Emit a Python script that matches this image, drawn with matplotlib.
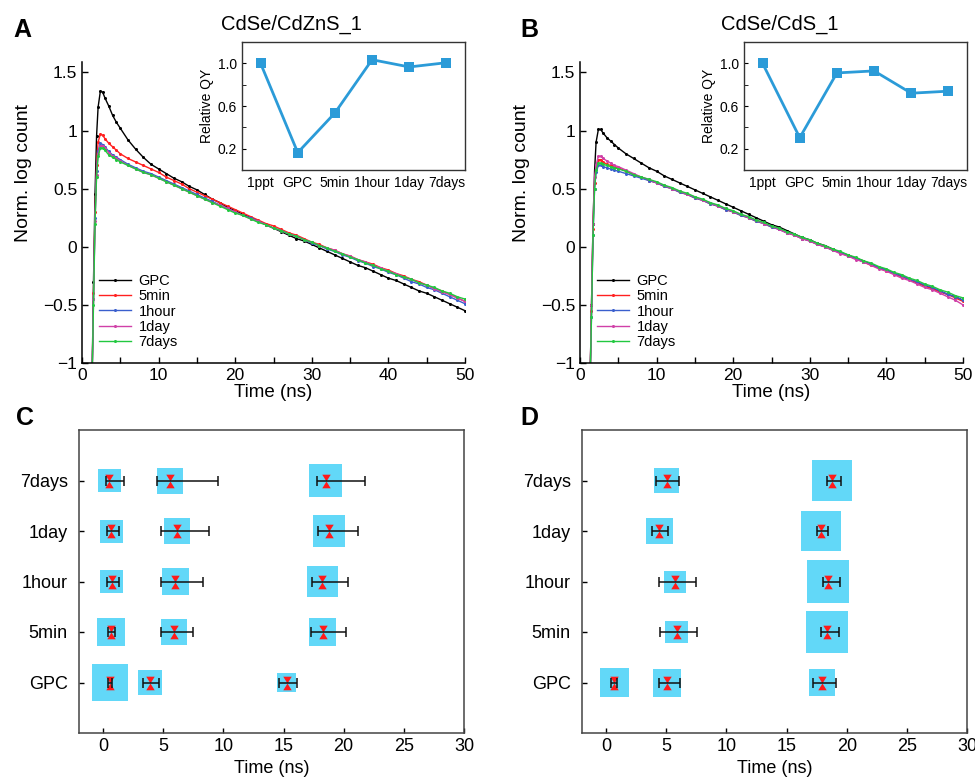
import numpy as np
import matplotlib
matplotlib.use("Agg")
import matplotlib.pyplot as plt
from matplotlib.path import Path
from matplotlib.ticker import FuncFormatter, MultipleLocator, FixedLocator

plt.rcParams['font.family'] = ['Liberation Sans', 'DejaVu Sans']

# =========================================================
# Données : déclins de fluorescence (A, B)
# =========================================================

t = [1.3, 1.5, 1.7, 1.9, 2.1, 2.4, 2.7, 3.0, 3.5, 4, 4.5, 5, 6, 7, 8, 9, 10,
     11, 12, 13, 14, 15, 16, 17, 18, 19, 20, 21, 22, 23, 24, 25, 26, 27, 28,
     29, 30, 31, 32, 33, 34, 35, 36, 37, 38, 39, 40, 41, 42, 43, 44, 45, 46,
     47, 48, 49, 50]

labels_decay = ["GPC", "5min", "1hour", "1day", "7days"]
colors_decay = ["black", "#ff2020", "#3a5fcd", "#d040a8", "#22c840"]

a_gpc = [-1.2, -0.3, 0.45, 0.95, 1.2, 1.34, 1.33, 1.28, 1.21, 1.13, 1.07, 1.02, 0.92,
         0.84, 0.77, 0.71, 0.67, 0.63, 0.59, 0.56, 0.52, 0.49, 0.45, 0.41, 0.38,
         0.34, 0.31, 0.28, 0.25, 0.22, 0.19, 0.16, 0.13, 0.10, 0.07, 0.05, 0.02,
         -0.01, -0.04, -0.07, -0.10, -0.13, -0.16, -0.18, -0.21, -0.24, -0.27,
         -0.29, -0.32, -0.35, -0.38, -0.40, -0.43, -0.46, -0.49, -0.52, -0.55]
a_5min = [-1.2, -0.4, 0.3, 0.7, 0.9, 0.97, 0.96, 0.93, 0.89, 0.86, 0.83, 0.80, 0.76,
          0.73, 0.70, 0.67, 0.64, 0.60, 0.57, 0.54, 0.50, 0.47, 0.44, 0.41, 0.38,
          0.35, 0.32, 0.29, 0.26, 0.23, 0.20, 0.18, 0.15, 0.12, 0.10, 0.07, 0.04,
          0.02, -0.01, -0.03, -0.06, -0.08, -0.11, -0.13, -0.15, -0.18, -0.20,
          -0.23, -0.25, -0.28, -0.30, -0.33, -0.36, -0.38, -0.41, -0.44, -0.47]
a_1hour = [-1.2, -0.45, 0.25, 0.65, 0.82, 0.89, 0.88, 0.86, 0.82, 0.79, 0.77, 0.75,
           0.71, 0.68, 0.65, 0.63, 0.60, 0.57, 0.54, 0.51, 0.48, 0.45, 0.42, 0.39,
           0.36, 0.33, 0.30, 0.27, 0.25, 0.22, 0.19, 0.16, 0.14, 0.11, 0.09, 0.06,
           0.03, 0.01, -0.02, -0.04, -0.07, -0.09, -0.12, -0.14, -0.17, -0.19,
           -0.22, -0.24, -0.27, -0.30, -0.32, -0.35, -0.37, -0.40, -0.43, -0.46, -0.49]
a_1day = [-1.2, -0.45, 0.22, 0.62, 0.80, 0.87, 0.87, 0.85, 0.81, 0.78, 0.76, 0.74,
          0.70, 0.67, 0.64, 0.62, 0.59, 0.56, 0.53, 0.50, 0.47, 0.44, 0.41, 0.38,
          0.36, 0.33, 0.30, 0.27, 0.24, 0.22, 0.19, 0.16, 0.14, 0.11, 0.09, 0.06,
          0.04, 0.01, -0.01, -0.03, -0.06, -0.08, -0.11, -0.13, -0.16, -0.18, -0.21,
          -0.23, -0.26, -0.28, -0.31, -0.33, -0.36, -0.39, -0.41, -0.44, -0.47]
a_7days = [-1.2, -0.5, 0.2, 0.6, 0.78, 0.85, 0.85, 0.83, 0.79, 0.77, 0.75, 0.73,
           0.70, 0.67, 0.64, 0.62, 0.59, 0.56, 0.53, 0.50, 0.47, 0.44, 0.41, 0.38,
           0.35, 0.32, 0.29, 0.27, 0.24, 0.21, 0.19, 0.16, 0.14, 0.11, 0.09, 0.06,
           0.04, 0.01, -0.01, -0.04, -0.06, -0.09, -0.11, -0.14, -0.16, -0.19, -0.21,
           -0.24, -0.26, -0.28, -0.31, -0.33, -0.35, -0.38, -0.40, -0.43, -0.45]

b_gpc = [-1.2, -0.5, 0.2, 0.65, 0.9, 1.01, 1.01, 0.98, 0.94, 0.91, 0.88, 0.85, 0.80,
         0.76, 0.72, 0.68, 0.65, 0.61, 0.58, 0.55, 0.52, 0.49, 0.46, 0.43, 0.40,
         0.37, 0.34, 0.31, 0.28, 0.25, 0.22, 0.19, 0.17, 0.14, 0.11, 0.08, 0.06,
         0.03, 0.01, -0.02, -0.05, -0.07, -0.10, -0.12, -0.15, -0.18, -0.20,
         -0.23, -0.25, -0.28, -0.31, -0.33, -0.36, -0.38, -0.41, -0.43, -0.46]
b_5min = [-1.2, -0.55, 0.15, 0.55, 0.68, 0.75, 0.75, 0.73, 0.71, 0.70, 0.69, 0.68,
          0.65, 0.62, 0.60, 0.57, 0.55, 0.52, 0.50, 0.47, 0.45, 0.42, 0.40, 0.37,
          0.35, 0.32, 0.30, 0.27, 0.25, 0.22, 0.20, 0.17, 0.15, 0.12, 0.10, 0.07,
          0.05, 0.02, 0.0, -0.03, -0.05, -0.08, -0.10, -0.13, -0.16, -0.18, -0.21,
          -0.23, -0.26, -0.28, -0.31, -0.34, -0.36, -0.39, -0.41, -0.44, -0.47]
b_1hour = [-1.2, -0.6, 0.1, 0.5, 0.64, 0.70, 0.70, 0.69, 0.68, 0.67, 0.66, 0.65,
           0.63, 0.61, 0.59, 0.57, 0.55, 0.52, 0.50, 0.47, 0.45, 0.42, 0.40, 0.37,
           0.35, 0.32, 0.30, 0.27, 0.25, 0.22, 0.20, 0.17, 0.15, 0.12, 0.10, 0.07,
           0.05, 0.02, 0.0, -0.03, -0.05, -0.08, -0.10, -0.13, -0.15, -0.18, -0.20,
           -0.23, -0.25, -0.28, -0.30, -0.33, -0.35, -0.38, -0.41, -0.43, -0.46]
b_1day = [-1.2, -0.5, 0.2, 0.6, 0.70, 0.78, 0.78, 0.76, 0.74, 0.72, 0.70, 0.69,
          0.66, 0.63, 0.60, 0.58, 0.55, 0.53, 0.50, 0.48, 0.45, 0.43, 0.40, 0.38,
          0.35, 0.33, 0.30, 0.28, 0.25, 0.23, 0.20, 0.18, 0.15, 0.12, 0.10, 0.07,
          0.05, 0.02, 0.0, -0.03, -0.06, -0.08, -0.11, -0.13, -0.16, -0.19, -0.21,
          -0.24, -0.27, -0.29, -0.32, -0.35, -0.37, -0.40, -0.43, -0.46, -0.50]
b_7days = [-1.2, -0.6, 0.1, 0.5, 0.66, 0.72, 0.72, 0.71, 0.70, 0.69, 0.68, 0.67,
           0.65, 0.62, 0.60, 0.58, 0.56, 0.53, 0.51, 0.48, 0.46, 0.43, 0.41, 0.38,
           0.36, 0.33, 0.31, 0.28, 0.26, 0.23, 0.21, 0.18, 0.16, 0.13, 0.11, 0.08,
           0.06, 0.03, 0.01, -0.02, -0.04, -0.07, -0.09, -0.12, -0.14, -0.17, -0.19,
           -0.22, -0.24, -0.27, -0.29, -0.32, -0.34, -0.37, -0.39, -0.42, -0.44]

# Rendement quantique relatif (encarts)
qy_labels = ["1ppt", "GPC", "5min", "1hour", "1day", "7days"]
qy_cdznS = [1.0, 0.163, 0.535, 1.034, 0.966, 1.006]
qy_cds = [1.0, 0.303, 0.91, 0.929, 0.72, 0.739]

# =========================================================
# Données : durées de vie (C, D)
# =========================================================

rows = ["GPC", "5min", "1hour", "1day", "7days"]

# CdSe/CdZnS_1 : trois composantes
c_tau1 = [0.56, 0.67, 0.72, 0.67, 0.53]
c_lo1 = [0.44, 0.44, 0.33, 0.31, 0.22]
c_hi1 = [0.72, 1.03, 1.36, 1.36, 1.75]
c_amp1 = [36.3, 28.5, 23.0, 23.0, 23.0]
c_tau2 = [3.92, 5.89, 6.0, 6.17, 5.56]
c_lo2 = [3.36, 4.83, 4.78, 4.81, 4.47]
c_hi2 = [4.69, 7.5, 8.28, 8.78, 9.53]
c_amp2 = [24.3, 26.7, 27.0, 26.3, 26.0]
c_tau3 = [15.25, 18.25, 18.22, 18.78, 18.5]
c_lo3 = [14.64, 17.25, 17.36, 17.86, 17.75]
c_hi3 = [16.11, 20.17, 20.39, 21.19, 21.8]
c_amp3 = [19.0, 27.3, 31.5, 32.0, 33.0]

# CdSe/CdS_1 : la composante courte n'existe que pour GPC
nan = np.nan
d_tau1 = [0.67, nan, nan, nan, nan]
d_lo1 = [0.44, nan, nan, nan, nan]
d_hi1 = [0.92, nan, nan, nan, nan]
d_amp1 = [28.8, nan, nan, nan, nan]
d_tau2 = [5.06, 5.86, 5.75, 4.44, 5.03]
d_lo2 = [4.36, 4.5, 4.42, 3.78, 4.11]
d_hi2 = [6.11, 7.53, 7.44, 5.17, 6.03]
d_amp2 = [28.0, 22.8, 22.0, 26.2, 25.3]
d_tau3 = [17.97, 18.39, 18.47, 17.86, 18.8]
d_lo3 = [17.22, 17.86, 18.0, 17.56, 18.33]
d_hi3 = [19.14, 19.39, 19.42, 18.42, 19.5]
d_amp3 = [26.2, 41.8, 42.3, 39.8, 40.3]

# =========================================================
# Figure
# =========================================================

W, H = 975, 783
fig = plt.figure(figsize=(W / 100, H / 100), dpi=100)


def box(left, top, right, bottom):
    return [left / W, 1 - bottom / H, (right - left) / W, (bottom - top) / H]


def fmt_g(v, pos):
    return ("%g" % v).replace("-", "\u2212")


def decay_panel(rect, series, title_x, title):
    ax = fig.add_axes(rect)
    for y, lab, col in zip(series, labels_decay, colors_decay):
        ax.plot(t, y, color=col, lw=1.0, marker='o', ms=2.2, mew=0, label=lab)
    ax.set_xlim(0, 50)
    ax.set_ylim(-1, 1.59)
    ax.spines['top'].set_visible(False)
    ax.spines['right'].set_visible(False)
    for s in ['left', 'bottom']:
        ax.spines[s].set_linewidth(1.1)
    ax.xaxis.set_major_locator(MultipleLocator(10))
    ax.xaxis.set_minor_locator(MultipleLocator(5))
    ax.yaxis.set_major_locator(MultipleLocator(0.5))
    ax.yaxis.set_major_formatter(FuncFormatter(fmt_g))
    ax.tick_params(which='both', direction='in', length=4, width=1, labelsize=12.5)
    ax.set_xlabel("Time (ns)", fontsize=13.5, labelpad=1)
    ax.set_ylabel("Norm. log count", fontsize=14)
    ax.yaxis.set_label_coords(-0.13, 0.63)
    ax.legend(loc='lower left', bbox_to_anchor=(0.045, 0.045), frameon=False,
              fontsize=10.5, handlelength=2.2, handletextpad=0.5,
              labelspacing=0.1, borderpad=0, borderaxespad=0)
    fig.text(title_x / W, 1 - 30 / H, title, fontsize=14.5, ha='center', va='baseline')
    return ax


def qy_inset(rect, values):
    ax = fig.add_axes(rect)
    x = np.arange(len(qy_labels))
    ax.plot(x, values, color='#2b9bd8', lw=2, marker='s', ms=7, mew=0)
    ax.set_xlim(-0.5, 5.5)
    ax.set_ylim(0, 1.2)
    ax.set_xticks(x)
    ax.set_xticklabels(qy_labels)
    ax.yaxis.set_major_locator(FixedLocator([0.2, 0.6, 1.0]))
    ax.yaxis.set_minor_locator(FixedLocator([0.4, 0.8]))
    ax.yaxis.set_major_formatter(FuncFormatter(lambda v, p: "%.1f" % v))
    ax.tick_params(axis='x', length=0, labelsize=10, pad=4)
    ax.tick_params(axis='y', which='both', direction='in', length=3, labelsize=10)
    ax.set_ylabel("Relative QY", fontsize=10, labelpad=3)
    for s in ax.spines.values():
        s.set_linewidth(1.0)
        s.set_color('#333333')


hourglass = Path(
    [(-0.31, 0.5), (0.31, 0.5), (0, 0), (-0.31, 0.5),
     (-0.31, -0.5), (0.31, -0.5), (0, 0), (-0.31, -0.5)],
    [Path.MOVETO, Path.LINETO, Path.LINETO, Path.CLOSEPOLY] * 2)


def lifetime_panel(rect, comps):
    ax = fig.add_axes(rect)
    y = np.arange(len(rows))
    for tau, lo, hi, amp in comps:
        tau = np.array(tau)
        lo = np.array(lo)
        hi = np.array(hi)
        side_pt = np.array(amp) * 0.72
        ax.scatter(tau, y, s=side_pt ** 2, marker='s', color='#62d8f8',
                   edgecolors='none', zorder=1)
        ax.plot(tau, y, ls='none', marker=hourglass, ms=9.8, color='#ff1a1a',
                mew=0, zorder=2)
        ax.errorbar(tau, y, xerr=[tau - lo, hi - tau], fmt='none', ecolor='#111111',
                    elinewidth=1.1, capsize=3.6, capthick=1.1, zorder=3)
    ax.set_xlim(-2, 30)
    ax.set_ylim(-1, 5)
    ax.set_yticks(y)
    ax.set_yticklabels(rows)
    ax.xaxis.set_major_locator(MultipleLocator(5))
    ax.tick_params(which='both', direction='in', length=3.5, width=1, labelsize=13)
    ax.tick_params(axis='y', pad=8)
    ax.set_xlabel("Time (ns)", fontsize=13, labelpad=4)
    for s in ax.spines.values():
        s.set_linewidth(1.1)
        s.set_color('#444444')
    return ax


# A et B : déclins
decay_panel(box(82, 62, 465, 363), [a_gpc, a_5min, a_1hour, a_1day, a_7days],
            291, "CdSe/CdZnS_1")
decay_panel(box(580, 62, 963, 363), [b_gpc, b_5min, b_1hour, b_1day, b_7days],
            780, "CdSe/CdS_1")

# Encarts QY
qy_inset(box(242, 42, 465, 170), qy_cdznS)
qy_inset(box(744, 42, 967, 170), qy_cds)

# C et D : composantes de durée de vie
lifetime_panel(box(79, 430, 464, 733),
               [(c_tau1, c_lo1, c_hi1, c_amp1),
                (c_tau2, c_lo2, c_hi2, c_amp2),
                (c_tau3, c_lo3, c_hi3, c_amp3)])
lifetime_panel(box(582, 430, 967, 733),
               [(d_tau1, d_lo1, d_hi1, d_amp1),
                (d_tau2, d_lo2, d_hi2, d_amp2),
                (d_tau3, d_lo3, d_hi3, d_amp3)])

# Lettres des panneaux
for letter, px, py in [("A", 13, 37), ("B", 520, 37), ("C", 16, 425), ("D", 520, 425)]:
    fig.text(px / W, 1 - py / H, letter, fontsize=18, fontweight='bold', va='baseline')

fig.savefig("out.png", dpi=100)
